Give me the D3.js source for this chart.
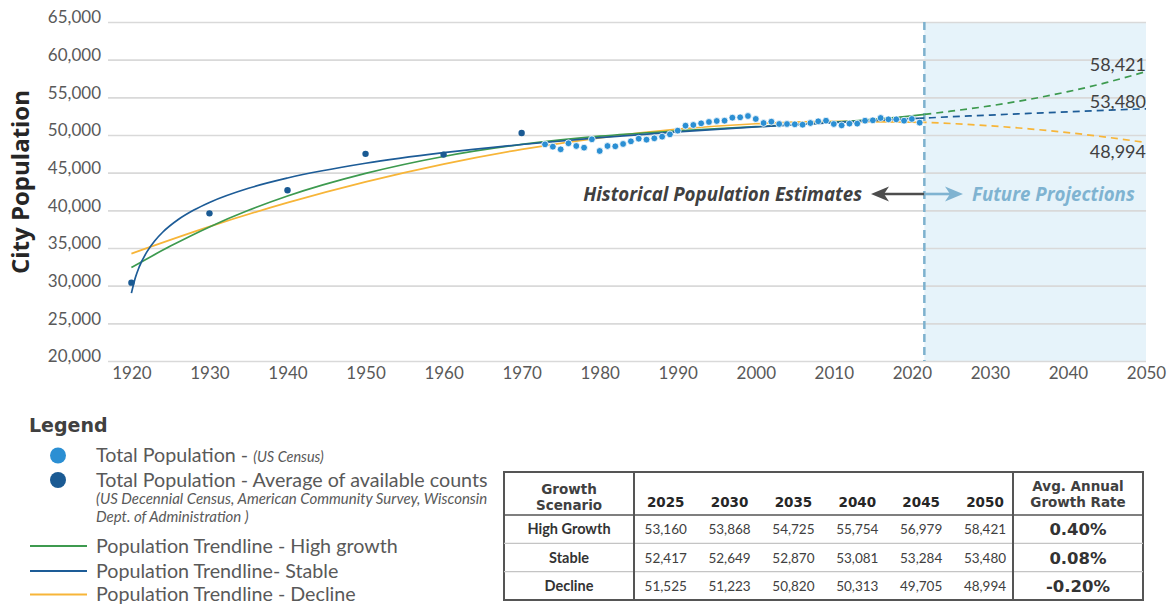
<!DOCTYPE html>
<html><head><meta charset="utf-8">
<script src="https://cdn.jsdelivr.net/npm/d3@7"></script>
<style>
html,body{margin:0;padding:0;background:#fff;}
svg{display:block;}
text{font-family:Lato,"Open Sans",sans-serif;}
</style></head><body>
<svg id="chart" width="1167" height="604"></svg>
<script>
// ---------- DATA ----------
const xTickYears = [1920,1930,1940,1950,1960,1970,1980,1990,2000,2010,2020,2030,2040,2050];
const yTickValues = [20000,25000,30000,35000,40000,45000,50000,55000,60000,65000];

const decennialYears  = [1920,1930,1940,1950,1960,1970];
const decennialValues = [30400,39600,42660,47500,47400,50270];

const annualYears = [1973,1974,1975,1976,1977,1978,1979,1980,1981,1982,1983,1984,1985,1986,1987,1988,1989,1990,
  1991,1992,1993,1994,1995,1996,1997,1998,1999,2000,2001,2002,2003,2004,2005,2006,2007,2008,2009,2010,
  2011,2012,2013,2014,2015,2016,2017,2018,2019,2020,2021];
const annualValues = [48760,48450,48100,48900,48540,48320,49430,47880,48540,48500,48810,49160,49510,49380,49560,49780,50090,50580,
  51240,51330,51550,51730,51860,51900,52300,52350,52520,52130,51590,51770,51460,51460,51420,51370,51590,51820,51900,51460,
  51280,51510,51510,51900,51950,52260,52080,52080,51900,52130,51640];

// historical part of trendlines
const highHistYears  = [1920,1925,1930,1935,1940,1950,1960,1970,1980,1990,2000,2010,2020];
const highHistValues = [32400,35250,37800,40000,41900,44900,47150,48750,49850,50550,51100,51700,52550];
const stableHistYears  = [1920,1920.5,1921,1922,1923,1924,1926,1928,1930,1935,1940,1950,1960,1970,1980,1990,2000,2010,2020];
const stableHistValues = [29010,31050,32490,34520,35970,37090,38780,40040,41050,42930,44290,46250,47650,48740,49640,50410,51070,51650,52170];
const declineHistYears  = [1920,1930,1940,1950,1960,1970,1980,1990,2000,2010,2020];
const declineHistValues = [34260,37840,41020,43780,46140,48090,49630,50770,51490,51810,51720];

// projection table
const tableYears = [2025,2030,2035,2040,2045,2050];
const scenarioNames = ["High Growth","Stable","Decline"];
const highProj    = [53160,53868,54725,55754,56979,58421];
const stableProj  = [52417,52649,52870,53081,53284,53480];
const declineProj = [51525,51223,50820,50313,49705,48994];
const growthRates = ["0.40%","0.08%","-0.20%"];

const projectionStart = 2021.6;

// ---------- STYLE ----------
const C = {
  grid:"#d9d9d9", axisText:"#595959", dark:"#404040",
  high:"#3d9a4f", stable:"#1d5c97", decline:"#f7b538",
  ptLight:"#2b8fd3", ptDark:"#1a5a93",
  shade:"#e6f3fa", vline:"#7db1ce", future:"#7fb3d1"
};

const svg = d3.select("#chart");
const x = d3.scaleLinear().domain([1917,2050]).range([108,1146]);
const y = d3.scaleLinear().domain([20000,65000]).range([361,22]);
const xSplit = x(projectionStart);

// shaded projection area
svg.append("rect").attr("x",xSplit).attr("y",y(65000)).attr("width",x(2050)-xSplit)
  .attr("height",y(20000)-y(65000)).attr("fill",C.shade);

// y axis with grid
const yAxis = svg.append("g").attr("transform","translate(108,0)")
  .call(d3.axisLeft(y).tickValues(yTickValues).tickFormat(d3.format(",")).tickSize(-(x(2050)-108)).tickPadding(7));
yAxis.select(".domain").remove();
yAxis.selectAll(".tick line").attr("stroke",C.grid).attr("stroke-width",1.6);
yAxis.selectAll(".tick text").attr("fill",C.axisText).attr("font-size",17).attr("y",-4.5)
  .style("font-family","Lato");

// x axis
const xAxis = svg.append("g").attr("transform","translate(0,361)")
  .call(d3.axisBottom(x).tickValues(xTickYears).tickFormat(d3.format("d")).tickSize(0).tickPadding(6));
xAxis.select(".domain").remove();
xAxis.selectAll(".tick text").attr("fill",C.axisText).attr("font-size",17).style("font-family","Lato");

// y title
svg.append("text").attr("transform","translate(28.5,182) rotate(-90)").attr("text-anchor","middle")
  .attr("font-size",24).attr("font-weight",700).style("font-family","'Open Sans'")
  .attr("fill","#262626").text("City Population");

// vertical dashed divider
svg.append("line").attr("x1",xSplit).attr("x2",xSplit).attr("y1",y(65000)).attr("y2",y(20000))
  .attr("stroke",C.vline).attr("stroke-width",2.5).attr("stroke-dasharray","8,5");

// clip paths
const defs = svg.append("defs");
defs.append("clipPath").attr("id","clipHist").append("rect")
  .attr("x",100).attr("y",0).attr("width",xSplit-100).attr("height",400);
defs.append("clipPath").attr("id","clipProj").append("rect")
  .attr("x",xSplit).attr("y",0).attr("width",x(2050)-xSplit+2).attr("height",400);

const line = d3.line().x(d=>x(d[0])).y(d=>y(d[1])).curve(d3.curveMonotoneX);
const series = [
  {name:"high",  color:C.high,   years:highHistYears.concat(tableYears),   values:highHistValues.concat(highProj)},
  {name:"stable",color:C.stable, years:stableHistYears.concat(tableYears), values:stableHistValues.concat(stableProj)},
  {name:"decline",color:C.decline,years:declineHistYears.concat(tableYears),values:declineHistValues.concat(declineProj)}
];
const drawOrder = [series[2], series[0], series[1]];
drawOrder.forEach(s=>{
  const pts = s.years.map((yr,i)=>[yr,s.values[i]]);
  svg.append("path").attr("d",line(pts)).attr("fill","none").attr("stroke",s.color)
    .attr("stroke-width",1.7).attr("clip-path","url(#clipHist)");
  svg.append("path").attr("d",line(pts)).attr("fill","none").attr("stroke",s.color)
    .attr("stroke-width",1.7).attr("stroke-dasharray","7,5").attr("clip-path","url(#clipProj)");
});

// points
svg.append("g").selectAll("circle").data(annualYears).join("circle")
  .attr("cx",d=>x(d)).attr("cy",(d,i)=>y(annualValues[i])).attr("r",3.4)
  .attr("fill",C.ptLight).attr("stroke","#fff").attr("stroke-width",0.8);
svg.append("g").selectAll("circle").data(decennialYears).join("circle")
  .attr("cx",d=>x(d)).attr("cy",(d,i)=>y(decennialValues[i])).attr("r",3.2)
  .attr("fill",C.ptDark);

// end labels
const fmt = d3.format(",");
const endLabels = [
  {v:highProj[highProj.length-1], dy:-1},
  {v:stableProj[stableProj.length-1], dy:-1},
  {v:declineProj[declineProj.length-1], dy:15}
];
endLabels.forEach(l=>{
  svg.append("text").attr("x",x(2050)).attr("y",y(l.v)+l.dy).attr("text-anchor","end")
    .attr("font-size",18).attr("fill",C.dark).text(fmt(l.v));
});

// annotation
svg.append("text").attr("x",862).attr("y",201).attr("text-anchor","end")
  .attr("font-size",18.7).attr("font-weight",700).attr("font-style","italic").style("font-family","'Open Sans'")
  .attr("fill",C.dark).text("Historical Population Estimates");
svg.append("line").attr("x1",882).attr("x2",xSplit).attr("y1",194).attr("y2",194)
  .attr("stroke","#4d4d4d").attr("stroke-width",2.6);
svg.append("path").attr("d","M871,194 L889,186.5 L884,194 L889,201.5 Z").attr("fill","#4d4d4d");
svg.append("line").attr("x1",xSplit).attr("x2",953).attr("y1",194).attr("y2",194)
  .attr("stroke",C.future).attr("stroke-width",2.6);
svg.append("path").attr("d","M963,194 L945,186.5 L950,194 L945,201.5 Z").attr("fill",C.future);
svg.append("text").attr("x",972).attr("y",201)
  .attr("font-size",18.7).attr("font-weight",700).attr("font-style","italic").style("font-family","'Open Sans'")
  .attr("fill",C.future).text("Future Projections");

// ---------- LEGEND ----------
const lg = svg.append("g");
lg.append("text").attr("x",29).attr("y",432).attr("font-size",19).attr("font-weight",700)
  .style("font-family","'DejaVu Sans'").attr("fill",C.dark).text("Legend");
lg.append("circle").attr("cx",58).attr("cy",455.5).attr("r",8).attr("fill",C.ptLight);
lg.append("circle").attr("cx",58).attr("cy",480).attr("r",8).attr("fill",C.ptDark);
const t1 = lg.append("text").attr("x",96).attr("y",462).attr("font-size",19.7).attr("fill","#595959");
t1.append("tspan").text("Total Population - ");
t1.append("tspan").attr("font-size",14.5).attr("font-style","italic").text("(US Census)");
lg.append("text").attr("x",96).attr("y",487).attr("font-size",19.7).attr("fill","#595959")
  .text("Total Population - Average of available counts");
lg.append("text").attr("x",96).attr("y",504).attr("font-size",15).attr("font-style","italic").attr("fill","#595959")
  .text("(US Decennial Census, American Community Survey, Wisconsin");
lg.append("text").attr("x",96).attr("y",522).attr("font-size",15).attr("font-style","italic").attr("fill","#595959")
  .text("Dept. of Administration )");
const lgLines = [
  {c:C.high, y:546, t:"Population Trendline - High growth"},
  {c:C.stable, y:571, t:"Population Trendline- Stable"},
  {c:C.decline, y:594.5, t:"Population Trendline - Decline"}
];
lgLines.forEach(l=>{
  lg.append("line").attr("x1",30).attr("x2",87).attr("y1",l.y).attr("y2",l.y).attr("stroke",l.c).attr("stroke-width",2.2);
  lg.append("text").attr("x",96).attr("y",l.y+6.5).attr("font-size",19.7).attr("fill","#595959").text(l.t);
});

// ---------- TABLE ----------
const tb = svg.append("g");
const tL=504, tR=1143, tT=472, tH=515, tB=600, c1=634, c2=1013;
const colX = d3.scalePoint().domain(tableYears).range([665.7,985]);
const rowY = d3.scaleBand().domain(scenarioNames).range([tH,tB]);
const tableRows = [highProj, stableProj, declineProj];

tb.append("rect").attr("x",tL).attr("y",tT).attr("width",tR-tL).attr("height",tB-tT)
  .attr("fill","#fff").attr("stroke","#555").attr("stroke-width",2);
scenarioNames.slice(1).forEach(n=>{
  tb.append("line").attr("x1",tL).attr("x2",tR).attr("y1",rowY(n)).attr("y2",rowY(n))
    .attr("stroke","#c4c4c4").attr("stroke-width",1.2);
});
tb.append("line").attr("x1",tL).attr("x2",tR).attr("y1",tH).attr("y2",tH).attr("stroke","#555").attr("stroke-width",1.6);
[c1,c2].forEach(cx=>tb.append("line").attr("x1",cx).attr("x2",cx).attr("y1",tT).attr("y2",tB)
  .attr("stroke","#555").attr("stroke-width",2));

const hdrFont = "'DejaVu Sans'";
tb.append("text").attr("x",(tL+c1)/2).attr("y",494).attr("text-anchor","middle").attr("font-size",13.5)
  .attr("font-weight",600).style("font-family",hdrFont).attr("fill",C.dark).text("Growth");
tb.append("text").attr("x",(tL+c1)/2).attr("y",510).attr("text-anchor","middle").attr("font-size",13.5)
  .attr("font-weight",600).style("font-family",hdrFont).attr("fill",C.dark).text("Scenario");
tb.append("text").attr("x",(c2+tR)/2).attr("y",491).attr("text-anchor","middle").attr("font-size",13.5)
  .attr("font-weight",600).style("font-family",hdrFont).attr("fill",C.dark).text("Avg. Annual");
tb.append("text").attr("x",(c2+tR)/2).attr("y",507).attr("text-anchor","middle").attr("font-size",13.5)
  .attr("font-weight",600).style("font-family",hdrFont).attr("fill",C.dark).text("Growth Rate");
tb.selectAll(".yr").data(tableYears).join("text").attr("class","yr")
  .attr("x",d=>colX(d)).attr("y",507).attr("text-anchor","middle").attr("font-size",13.5)
  .attr("font-weight",700).style("font-family",hdrFont).attr("fill","#262626").text(d=>d);

scenarioNames.forEach((n,ri)=>{
  const cy = rowY(n)+rowY.bandwidth()/2;
  tb.append("text").attr("x",(tL+c1)/2).attr("y",cy+5).attr("text-anchor","middle")
    .attr("font-size",14.5).attr("font-weight",700).attr("fill","#333").text(n);
  tb.selectAll(".v"+ri).data(tableRows[ri]).join("text").attr("class","v"+ri)
    .attr("x",(d,i)=>colX(tableYears[i])).attr("y",cy+5).attr("text-anchor","middle")
    .attr("font-size",13.5).attr("fill",C.dark).text(d=>fmt(d));
  tb.append("text").attr("x",(c2+tR)/2).attr("y",cy+6).attr("text-anchor","middle")
    .attr("font-size",16.5).attr("font-weight",700).style("font-family",hdrFont).attr("fill","#333").text(growthRates[ri]);
});
</script>
</body></html>
